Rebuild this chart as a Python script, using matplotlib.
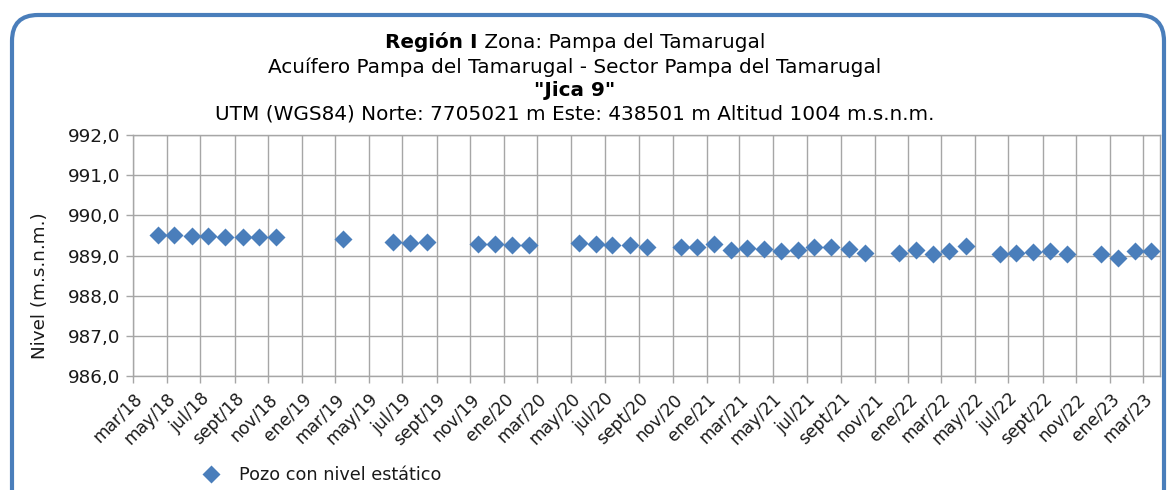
import matplotlib
matplotlib.use('Agg')
import matplotlib.pyplot as plt
from matplotlib.patches import FancyBboxPatch
from matplotlib.lines import Line2D
import pandas as pd

# ---------------- data ----------------
dates = [
    '2018-04-15', '2018-05-15', '2018-06-15', '2018-07-15', '2018-08-15',
    '2018-09-15', '2018-10-15', '2018-11-15',
    '2019-03-15',
    '2019-06-15', '2019-07-15', '2019-08-15',
    '2019-11-15', '2019-12-15', '2020-01-15', '2020-02-15',
    '2020-05-15', '2020-06-15', '2020-07-15', '2020-08-15', '2020-09-15',
    '2020-11-15', '2020-12-15', '2021-01-15', '2021-02-15', '2021-03-15',
    '2021-04-15', '2021-05-15', '2021-06-15', '2021-07-15', '2021-08-15',
    '2021-09-15', '2021-10-15',
    '2021-12-15', '2022-01-15', '2022-02-15', '2022-03-15', '2022-04-15',
    '2022-06-15', '2022-07-15', '2022-08-15', '2022-09-15', '2022-10-15',
    '2022-12-15', '2023-01-15', '2023-02-15', '2023-03-15',
]
levels = [
    989.50, 989.50, 989.49, 989.48, 989.47, 989.46, 989.45, 989.45,
    989.41,
    989.33, 989.31, 989.33,
    989.29, 989.28, 989.27, 989.27,
    989.31, 989.28, 989.27, 989.26, 989.22,
    989.20, 989.22, 989.28, 989.14, 989.18, 989.16, 989.11, 989.14,
    989.22, 989.22, 989.16, 989.06,
    989.06, 989.14, 989.04, 989.11, 989.24,
    989.03, 989.06, 989.08, 989.10, 989.03,
    989.04, 988.93, 989.10, 989.10,
]
tick_labels = [
    'mar/18', 'may/18', 'jul/18', 'sept/18', 'nov/18',
    'ene/19', 'mar/19', 'may/19', 'jul/19', 'sept/19', 'nov/19',
    'ene/20', 'mar/20', 'may/20', 'jul/20', 'sept/20', 'nov/20',
    'ene/21', 'mar/21', 'may/21', 'jul/21', 'sept/21', 'nov/21',
    'ene/22', 'mar/22', 'may/22', 'jul/22', 'sept/22', 'nov/22',
    'ene/23', 'mar/23',
]
y_ticks = [986, 987, 988, 989, 990, 991, 992]
series_name = 'Pozo con nivel estático'

# ---------------- figure ----------------
W, H = 1170, 490
fig = plt.figure(figsize=(W / 100, H / 100), dpi=100)
fig.patch.set_facecolor('white')

blue = '#4A7EBB'
grid_c = '#A6A6A6'
txt_c = '#1a1a1a'
fs_title = 14.4
fs_y = 13.2
fs_x = 12.3
fs_leg = 12.7
ms = 9.2

# rounded frame (pixel coordinates)
frame = FancyBboxPatch((12, -40), 1152, 475 + 40,
                       boxstyle='round,pad=0,rounding_size=26',
                       transform=None, fill=False, edgecolor=blue,
                       linewidth=3.0, zorder=0)
fig.patches.append(frame)

ax = fig.add_axes([133 / W, 1 - 376 / H, (1160 - 133) / W, (376 - 135) / H])
x = pd.to_datetime(dates)
ax.plot(x, levels, linestyle='none', marker='D', ms=ms,
        color=blue, markeredgecolor='none', zorder=3, clip_on=False)

tick_pos = pd.date_range('2018-03-01', periods=len(tick_labels), freq='2MS')
ax.set_xticks(tick_pos)
ax.set_xticklabels(tick_labels, rotation=45, ha='right', va='top',
                   rotation_mode='anchor', fontsize=fs_x, color=txt_c)
ax.set_xlim(pd.Timestamp('2018-03-01'), pd.Timestamp('2023-04-01'))

ax.set_ylim(986, 992)
ax.set_yticks(y_ticks)
ax.set_yticklabels([f'{v:.1f}'.replace('.', ',') for v in y_ticks],
                   fontsize=fs_y, color=txt_c)

ax.grid(True, color=grid_c, linewidth=1.0)
ax.set_axisbelow(True)
for s in ax.spines.values():
    s.set_color(grid_c)
    s.set_linewidth(1.0)
ax.tick_params(axis='both', color=grid_c, length=5, width=1.0)
ax.tick_params(axis='x', pad=5)
ax.tick_params(axis='y', pad=4)

# y label
fig.text(40 / W, 1 - 286 / H, 'Nivel (m.s.n.m.)', rotation=90,
         ha='center', va='center', fontsize=fs_y, color=txt_c)

# titles
cx = 575 / W
renderer = fig.canvas.get_renderer()
t_b = fig.text(0, 1 - 42 / H, 'Región I', fontweight='bold', fontsize=fs_title,
               ha='left', va='center', color='black')
t_n = fig.text(0, 1 - 42 / H, ' Zona: Pampa del Tamarugal', fontsize=fs_title,
               ha='left', va='center', color='black')
wb = t_b.get_window_extent(renderer).width
wn = t_n.get_window_extent(renderer).width
start = 575 - (wb + wn) / 2
t_b.set_x(start / W)
t_n.set_x((start + wb) / W)

fig.text(cx, 1 - 67 / H, 'Acuífero Pampa del Tamarugal - Sector Pampa del Tamarugal',
         ha='center', va='center', fontsize=fs_title, color='black')
fig.text(cx, 1 - 90 / H, '"Jica 9"', ha='center', va='center',
         fontsize=fs_title, fontweight='bold', color='black')
fig.text(cx, 1 - 114 / H,
         'UTM (WGS84) Norte: 7705021 m Este: 438501 m Altitud 1004 m.s.n.m.',
         ha='center', va='center', fontsize=fs_title, color='black')

# legend
handle = Line2D([], [], linestyle='none', marker='D', ms=ms, color=blue,
                markeredgecolor='none')
fig.legend([handle], [series_name], loc='center left',
           bbox_to_anchor=(177 / W, 1 - 475 / H), frameon=False,
           fontsize=fs_leg, handletextpad=0.6, labelcolor=txt_c)

fig.savefig('out.png', dpi=100)
